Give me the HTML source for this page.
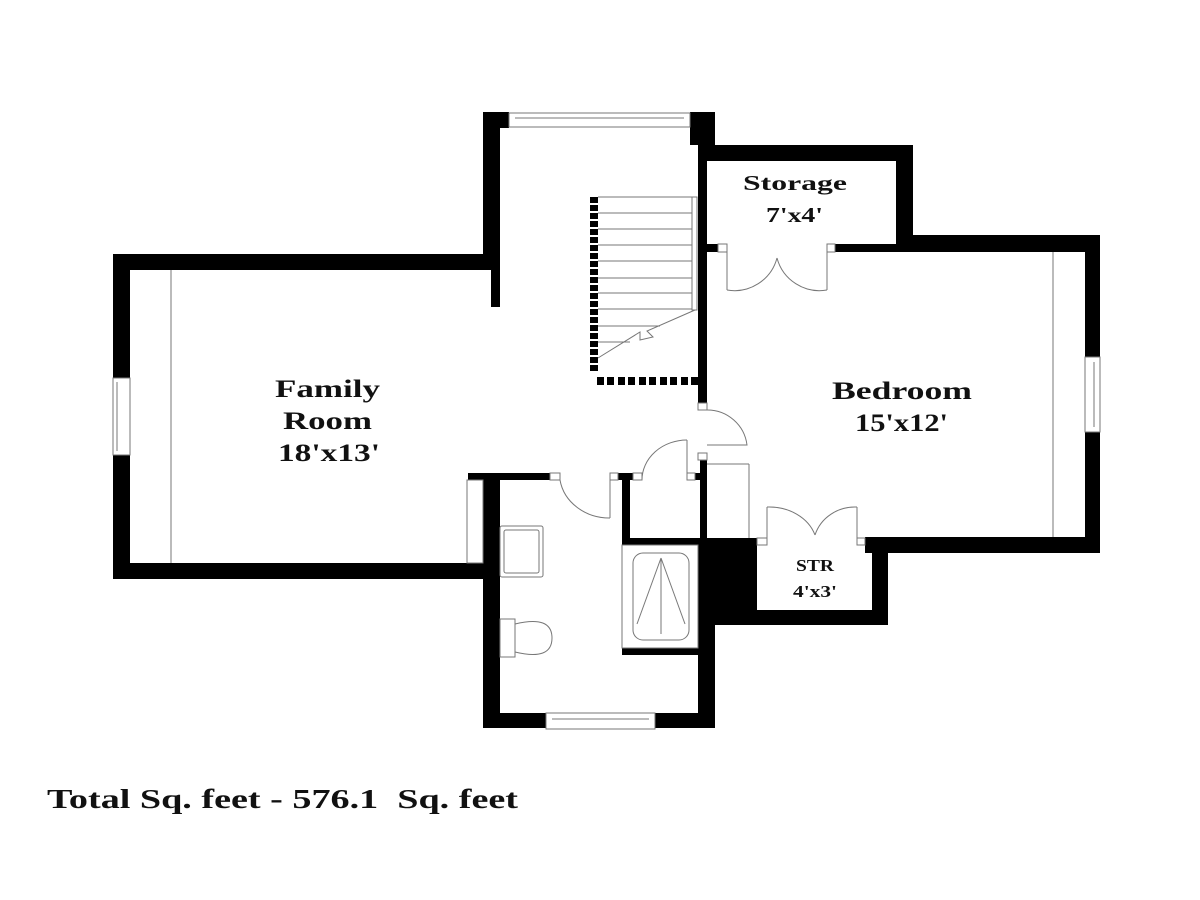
<!DOCTYPE html>
<html><head><meta charset="utf-8"><style>
html,body{margin:0;padding:0;background:#fff;}
svg{display:block;}
text{font-family:"Liberation Serif",serif;font-weight:bold;fill:#111;}
</style></head><body>
<svg width="1200" height="900" viewBox="0 0 1200 900" xmlns="http://www.w3.org/2000/svg">
<g fill="#000">
<rect x="113" y="254" width="387" height="16"/>
<rect x="113" y="254" width="17" height="124"/>
<rect x="113" y="455" width="17" height="124"/>
<rect x="113" y="563" width="387" height="16"/>
<rect x="483" y="112" width="17" height="158"/>
<rect x="491" y="254" width="9" height="53"/>
<rect x="483" y="112" width="26" height="16"/>
<rect x="690" y="112" width="25" height="33"/>
<rect x="698" y="112" width="9" height="291"/>
<rect x="698" y="145" width="215" height="16"/>
<rect x="896" y="145" width="17" height="107"/>
<rect x="707" y="244" width="11" height="8"/>
<rect x="835" y="244" width="78" height="8"/>
<rect x="896" y="235" width="204" height="17"/>
<rect x="1085" y="235" width="15" height="122"/>
<rect x="1085" y="432" width="15" height="121"/>
<rect x="865" y="537" width="235" height="16"/>
<rect x="872" y="537" width="16" height="88"/>
<rect x="698" y="610" width="190" height="15"/>
<rect x="698" y="538" width="59" height="87"/>
<rect x="698" y="538" width="17" height="190"/>
<rect x="468" y="473" width="82" height="7"/>
<rect x="483" y="473" width="17" height="255"/>
<rect x="483" y="713" width="63" height="15"/>
<rect x="655" y="713" width="60" height="15"/>
<rect x="618" y="473" width="15" height="7"/>
<rect x="622" y="473" width="8" height="72"/>
<rect x="622" y="538" width="90" height="7"/>
<rect x="622" y="648" width="90" height="7"/>
<rect x="695" y="473" width="12" height="7"/>
<rect x="700" y="460" width="7" height="85"/>
<g>
<rect x="590" y="197" width="8" height="6"/><rect x="590" y="205" width="8" height="6"/><rect x="590" y="213" width="8" height="6"/><rect x="590" y="221" width="8" height="6"/><rect x="590" y="229" width="8" height="6"/><rect x="590" y="237" width="8" height="6"/><rect x="590" y="245" width="8" height="6"/><rect x="590" y="253" width="8" height="6"/><rect x="590" y="261" width="8" height="6"/><rect x="590" y="269" width="8" height="6"/><rect x="590" y="277" width="8" height="6"/><rect x="590" y="285" width="8" height="6"/><rect x="590" y="293" width="8" height="6"/><rect x="590" y="301" width="8" height="6"/><rect x="590" y="309" width="8" height="6"/><rect x="590" y="317" width="8" height="6"/><rect x="590" y="325" width="8" height="6"/><rect x="590" y="333" width="8" height="6"/><rect x="590" y="341" width="8" height="6"/><rect x="590" y="349" width="8" height="6"/><rect x="590" y="357" width="8" height="6"/><rect x="590" y="365" width="8" height="6"/>
<rect x="597" y="377" width="7" height="8"/><rect x="607" y="377" width="7" height="8"/><rect x="618" y="377" width="7" height="8"/><rect x="628" y="377" width="7" height="8"/><rect x="639" y="377" width="7" height="8"/><rect x="649" y="377" width="7" height="8"/><rect x="660" y="377" width="7" height="8"/><rect x="670" y="377" width="7" height="8"/><rect x="681" y="377" width="7" height="8"/><rect x="691" y="377" width="7" height="8"/>
</g>
</g>
<g fill="none" stroke="#777" stroke-width="1">
<rect x="509" y="113" width="181" height="14"/><line x1="515" y1="118" x2="684" y2="118"/>
<rect x="113" y="378" width="17" height="77"/><line x1="117" y1="382" x2="117" y2="451"/>
<rect x="1085" y="357" width="15" height="75"/><line x1="1094" y1="362" x2="1094" y2="427"/>
<rect x="546" y="713" width="109" height="16"/><line x1="552" y1="719" x2="649" y2="719"/>
<line x1="171" y1="270" x2="171" y2="563"/>
<line x1="1053" y1="252" x2="1053" y2="537"/>
<rect x="467" y="480" width="16" height="83"/>
<line x1="598" y1="197" x2="692" y2="197"/><line x1="598" y1="213" x2="692" y2="213"/><line x1="598" y1="229" x2="692" y2="229"/><line x1="598" y1="245" x2="692" y2="245"/><line x1="598" y1="261" x2="692" y2="261"/><line x1="598" y1="278" x2="692" y2="278"/><line x1="598" y1="293" x2="692" y2="293"/><line x1="598" y1="309" x2="692" y2="309"/><line x1="598" y1="326" x2="660" y2="326"/><line x1="598" y1="342" x2="630" y2="342"/>
<rect x="692" y="197" width="5" height="113"/>
<polyline points="598,358 640,332 640,340 653,337 647,331 695,310"/>
<rect x="718" y="244" width="9" height="8"/><rect x="827" y="244" width="8" height="8"/>
<rect x="698" y="403" width="9" height="7"/>
<rect x="550" y="473" width="10" height="7"/><rect x="610" y="473" width="8" height="7"/>
<rect x="633" y="473" width="9" height="7"/><rect x="687" y="473" width="8" height="7"/>
<rect x="698" y="453" width="9" height="7"/>
<rect x="757" y="538" width="10" height="7"/><rect x="857" y="538" width="8" height="7"/>
<line x1="727" y1="248" x2="727" y2="290"/><path d="M727,290 A44,44 0 0 0 777,258"/>
<line x1="827" y1="248" x2="827" y2="290"/><path d="M827,290 A44,44 0 0 1 777,258"/>
<path d="M707,410 A40,40 0 0 1 747,445 L707,445"/>
<line x1="610" y1="473" x2="610" y2="518"/><path d="M560,480 A50,45 0 0 0 610,518"/>
<line x1="687" y1="440" x2="687" y2="480"/><path d="M642,480 A45,40 0 0 1 687,440"/>
<line x1="707" y1="464" x2="749" y2="464"/><line x1="749" y1="464" x2="749" y2="538"/>
<line x1="767" y1="538" x2="767" y2="507"/><path d="M767,507 A48,40 0 0 1 815,535"/>
<line x1="857" y1="538" x2="857" y2="507"/><path d="M857,507 A42,40 0 0 0 815,535"/>
<rect x="622" y="545" width="76" height="103"/>
<rect x="633" y="553" width="56" height="87" rx="10"/>
<line x1="661" y1="558" x2="661" y2="634"/><line x1="661" y1="558" x2="637" y2="624"/><line x1="661" y1="558" x2="685" y2="624"/>
<rect x="500" y="526" width="43" height="51" rx="2"/><rect x="504" y="530" width="35" height="43" rx="2"/>
<rect x="500" y="619" width="15" height="38"/>
<path d="M515,624 Q552,615 552,638 Q552,661 515,652 Z"/>
</g>
<g lengthAdjust="spacingAndGlyphs">
<text x="275" y="397" font-size="25" textLength="105" lengthAdjust="spacingAndGlyphs">Family</text>
<text x="283" y="429" font-size="25" textLength="89" lengthAdjust="spacingAndGlyphs">Room</text>
<text x="278" y="461" font-size="25" textLength="102" lengthAdjust="spacingAndGlyphs">18'x13'</text>
<text x="832" y="399" font-size="25" textLength="140" lengthAdjust="spacingAndGlyphs">Bedroom</text>
<text x="855" y="431" font-size="25" textLength="93" lengthAdjust="spacingAndGlyphs">15'x12'</text>
<text x="743" y="190" font-size="21" textLength="104" lengthAdjust="spacingAndGlyphs">Storage</text>
<text x="766" y="222" font-size="21" textLength="57" lengthAdjust="spacingAndGlyphs">7'x4'</text>
<text x="796" y="571" font-size="17" textLength="38" lengthAdjust="spacingAndGlyphs">STR</text>
<text x="793" y="597" font-size="17" textLength="44" lengthAdjust="spacingAndGlyphs">4'x3'</text>
<text x="47" y="808" font-size="27" textLength="471" lengthAdjust="spacingAndGlyphs" xml:space="preserve">Total Sq. feet - 576.1  Sq. feet</text>
</g>
</svg>
</body></html>
